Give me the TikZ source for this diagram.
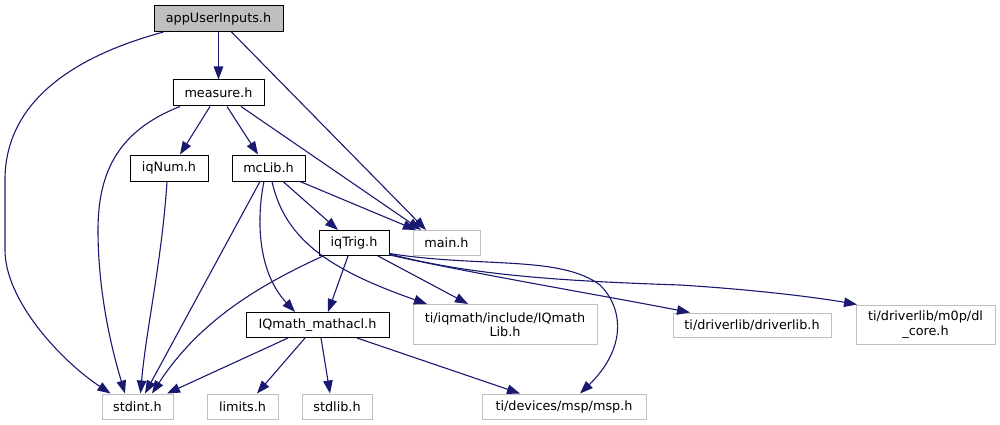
\documentclass[tikz,border=0pt]{standalone}
\usepackage{fontspec}
\setmainfont{DejaVu Sans}
\usetikzlibrary{arrows.meta}
\definecolor{edgec}{HTML}{191970}
\definecolor{greyb}{HTML}{BFBFBF}
\begin{document}
\begin{tikzpicture}[x=1pt,y=-1pt,
  box/.style={draw=black,line width=1pt,inner sep=0pt,align=center,
    font=\fontsize{12.8}{14.5}\selectfont},
  ext/.style={box,draw=greyb},
  edge/.style={draw=edgec,line width=1.1pt,-{Triangle[length=13pt,width=9.5pt]}}]
\useasboundingbox (0,0) rectangle (1000,425);
% nodes
\node[box,fill=greyb,minimum width=129pt,minimum height=26pt] (app) at (218.5,18.5) {appUserInputs.h};
\node[box,minimum width=91pt,minimum height=26pt] (measure) at (218.5,93) {measure.h};
\node[box,minimum width=78pt,minimum height=26pt] (iqNum) at (169,168) {iqNum.h};
\node[box,minimum width=73pt,minimum height=26pt] (mcLib) at (268.5,168) {mcLib.h};
\node[box,minimum width=70pt,minimum height=25pt] (iqTrig) at (354,243) {iqTrig.h};
\node[ext,minimum width=67pt,minimum height=25pt] (main) at (446.5,243) {main.h};
\node[box,minimum width=143pt,minimum height=25pt] (mathacl) at (317.5,325) {IQmath\_mathacl.h};
\node[ext,minimum width=184pt,minimum height=40pt] (iqlib) at (505,324.5) {ti/iqmath/include/IQmath\\Lib.h};
\node[ext,minimum width=158pt,minimum height=24pt] (driverlib) at (752,325) {ti/driverlib/driverlib.h};
\node[ext,minimum width=139pt,minimum height=39pt] (dlcore) at (925.5,324.5) {ti/driverlib/m0p/dl\\\_core.h};
\node[ext,minimum width=71pt,minimum height=25pt] (stdint) at (137.5,406.5) {stdint.h};
\node[ext,minimum width=71pt,minimum height=25pt] (limits) at (242.5,406.5) {limits.h};
\node[ext,minimum width=70pt,minimum height=25pt] (stdlib) at (337,406.5) {stdlib.h};
\node[ext,minimum width=164pt,minimum height=25pt] (msp) at (564,406.5) {ti/devices/msp/msp.h};
% edges
\draw[edge] (app.south) -- (measure.north);
\draw[edge] ([xshift=-55pt]app.south) .. controls (60,60) and (5,110) .. (5,180) -- (5,250) .. controls (5,300) and (60,360) .. ([xshift=-27pt]stdint.north);
\draw[edge] ([xshift=13pt]app.south) -- ([xshift=-20.5pt]main.north);
\draw[edge] ([xshift=-38.5pt]measure.south) .. controls (120,130) and (98,170) .. (98,230) .. controls (98,300) and (115,360) .. ([xshift=-12.5pt]stdint.north);
\draw[edge] ([xshift=-8.5pt]measure.south) -- ([xshift=11pt]iqNum.north);
\draw[edge] ([xshift=8.5pt]measure.south) -- ([xshift=-10.5pt]mcLib.north);
\draw[edge] ([xshift=22.5pt]measure.south) -- ([xshift=-25.5pt]main.north);
\draw[edge] ([xshift=-2pt]iqNum.south) .. controls (162,260) and (146,330) .. ([xshift=3pt]stdint.north);
\draw[edge] ([xshift=-8.5pt]mcLib.south) -- ([xshift=7.5pt]stdint.north);
\draw[edge] ([xshift=-4.5pt]mcLib.south) .. controls (257,215) and (256,270) .. ([xshift=-22.5pt]mathacl.north);
\draw[edge] ([xshift=3.5pt]mcLib.south) .. controls (285,240) and (330,270) .. ([xshift=-78pt]iqlib.north);
\draw[edge] ([xshift=14.5pt]mcLib.south) -- ([xshift=-16pt]iqTrig.north);
\draw[edge] ([xshift=31.5pt]mcLib.south) -- ([xshift=-30.5pt]main.north);
\draw[edge] ([xshift=-31pt]iqTrig.south) .. controls (260,285) and (200,320) .. ([xshift=14.5pt]stdint.north);
\draw[edge] ([xshift=-6pt]iqTrig.south) -- ([xshift=10.5pt]mathacl.north);
\draw[edge] ([xshift=24pt]iqTrig.south) -- ([xshift=-37pt]iqlib.north);
\draw[edge] ([yshift=1pt]iqTrig.south east) .. controls (480,275) and (600,295) .. ([xshift=-62pt]driverlib.north);
\draw[edge] ([yshift=2pt]iqTrig.south east) .. controls (470,275) and (560,281) .. (680,285) .. controls (760,290) and (820,298) .. ([xshift=-68.5pt]dlcore.north);
\draw[edge] ([yshift=2.5pt]iqTrig.south east) .. controls (480,268) and (560,255) .. (600,285) .. controls (625,310) and (625,350) .. ([xshift=16pt]msp.north);
\draw[edge] ([xshift=-29.5pt]mathacl.south) -- ([xshift=29.5pt]stdint.north);
\draw[edge] ([xshift=-12.5pt]mathacl.south) -- ([xshift=14.5pt]limits.north);
\draw[edge] ([xshift=3.5pt]mathacl.south) -- ([xshift=-7pt]stdlib.north);
\draw[edge] ([xshift=39.5pt]mathacl.south) -- ([xshift=-44pt]msp.north);
\end{tikzpicture}
\end{document}
